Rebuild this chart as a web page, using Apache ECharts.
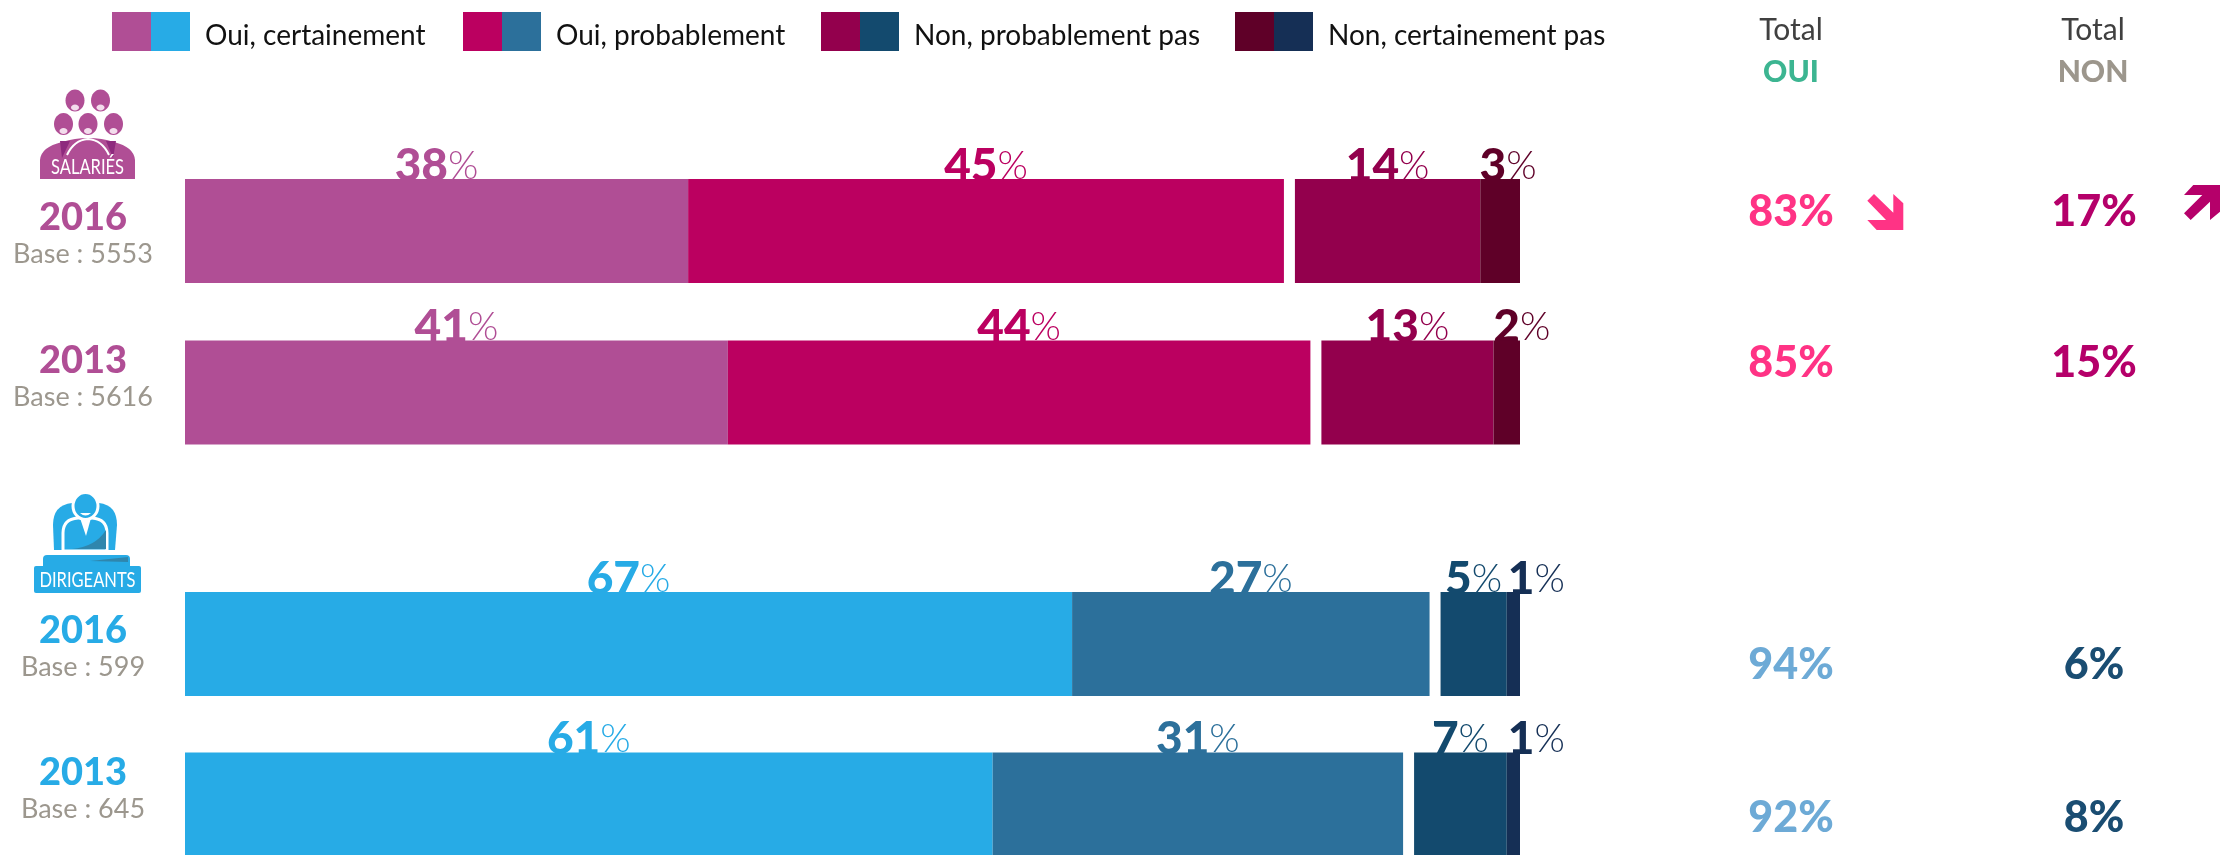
<!DOCTYPE html>
<html>
<head>
<meta charset="utf-8">
<style>html,body{margin:0;padding:0;background:#fff;overflow:hidden}#c{width:2222px;height:855px}</style>
<script src="https://cdn.jsdelivr.net/npm/echarts@6/dist/echarts.min.js"></script>
</head>
<body>
<div id="c"></div>
<script>
// ---- data ----
const answers = ['Oui, certainement', 'Oui, probablement', 'Non, probablement pas', 'Non, certainement pas'];
const years1 = ['2016', '2013'];
const bases1 = ['Base : 5553', 'Base : 5616'];
const years2 = ['2016', '2013'];
const bases2 = ['Base : 599', 'Base : 645'];
const sal_certOui = [38, 41];
const sal_probOui = [45, 44];
const sal_probNon = [14, 13];
const sal_certNon = [3, 2];
const dir_certOui = [67, 61];
const dir_probOui = [27, 31];
const dir_probNon = [5, 7];
const dir_certNon = [1, 1];
const sal_totalOui = [83, 85];
const sal_totalNon = [17, 15];
const dir_totalOui = [94, 92];
const dir_totalNon = [6, 8];
const totalColumns = ['OUI', 'NON'];
const splitGap = [0.83, 0.83];

// ---- style ----
const pinks = ['#b04e95', '#bb0060', '#93004d', '#5f0028'];
const blues = ['#27abe6', '#2c709b', '#134a6e', '#152f55'];
const axisMax = 100.83;
const hidden = {show: false};

const labelOffsets = {
  s: [null, null, null, [[8, 0], [15, 0]]],
  d: [null, null, null, [[23, 0], [23, 0]]]
};

function stackSeries(groupKey, gridIdx, values, colors) {
  const out = [];
  const order = [0, 1, 'gap', 2, 3];
  // label layer sits behind the bars so that the bars crop the foot of each number
  order.forEach(function (k) {
    const gap = k === 'gap';
    out.push({
      type: 'bar', name: groupKey + '-labels-' + k, stack: groupKey + 'L', z: 1, barWidth: 104, barGap: '-100%',
      xAxisIndex: gridIdx, yAxisIndex: gridIdx, silent: true, clip: false,
      itemStyle: {color: 'rgba(0,0,0,0)'},
      data: (gap ? splitGap : values[k]).map(function (v, i) {
        if (gap) return v;
        const off = labelOffsets[groupKey][k];
        return {value: v, label: {
          show: true, position: 'top', distance: -10,
          offset: off ? off[i] : [0, 0],
          formatter: '{d|' + v + '}{p|%}',
          rich: {
            d: {fontFamily: 'Lato', fontWeight: 900, fontSize: 46, lineHeight: 46, color: colors[k]},
            p: {fontFamily: 'Lato', fontWeight: 300, fontSize: 39, lineHeight: 46, color: colors[k]}
          }
        }};
      })
    });
  });
  order.forEach(function (k) {
    const gap = k === 'gap';
    out.push({
      type: 'bar', name: gap ? groupKey + '-gap' : (groupKey === 's' ? answers[k] : groupKey + '-' + answers[k]),
      stack: groupKey + 'B', z: 2, barWidth: 104, barGap: '-100%',
      xAxisIndex: gridIdx, yAxisIndex: gridIdx, silent: true, clip: false,
      itemStyle: {color: gap ? 'rgba(0,0,0,0)' : colors[k]},
      data: gap ? splitGap : values[k]
    });
  });
  return out;
}

function totalSeries(gridIdx, oui, non, cOui, cNon) {
  return [[oui, cOui, 0], [non, cNon, 1]].map(function (t) {
    return {
      type: 'scatter', name: 'Total ' + totalColumns[t[2]] + ' ' + gridIdx, xAxisIndex: gridIdx, yAxisIndex: gridIdx,
      symbolSize: 1, itemStyle: {color: 'rgba(0,0,0,0)', opacity: 1}, silent: true, clip: false,
      label: {show: true, position: 'inside', formatter: function (p) { return p.data[2] + '%'; },
        fontFamily: 'Lato', fontWeight: 900, fontSize: 43, color: t[1]},
      data: t[0].map(function (v, i) { return [t[2], i, v]; })
    };
  });
}

function yLabel(years, bases, key) {
  return {
    show: true, align: 'center', margin: 102,
    formatter: function (v, i) {
      const tail = i === 1 ? '\n{pad|}' : '';
      const head = i === 0 ? '{top|}\n' : '';
      return head + '{y|' + years[i] + '}\n{b|' + bases[i] + '}' + tail;
    },
    rich: {
      y: {fontFamily: 'Lato', fontWeight: 900, fontSize: 38, lineHeight: 38, color: key, align: 'center'},
      b: {fontFamily: 'Lato', fontSize: 27, lineHeight: 34, color: '#9c978e', align: 'center'},
      pad: {height: 29, lineHeight: 29},
      top: {height: 8, lineHeight: 8}
    }
  };
}

function hard(a, b) {
  return {type: 'linear', x: 0, y: 0, x2: 1, y2: 0, colorStops: [
    {offset: 0, color: a}, {offset: 0.5, color: a}, {offset: 0.5, color: b}, {offset: 1, color: b}]};
}
const legendLefts = [112, 463, 821, 1235];

const legends = answers.map(function (a, i) {
  return {
    left: legendLefts[i], top: 12, padding: 0, itemWidth: 78, itemHeight: 39, icon: 'rect', selectedMode: false,
    data: [{name: a, itemStyle: {color: hard(pinks[i], blues[i])}}],
    formatter: function (n) { return '{t|' + n + '}'; },
    textStyle: {fontFamily: 'Lato', fontSize: 28, color: '#111', padding: [0, 0, 0, 10],
      rich: {t: {fontFamily: 'Lato', fontSize: 28, color: '#111', padding: [8, 0, 0, 0]}}}
  };
});

// ---- pictograms (decoration) ----
let shapeCount = 0;
function svgPath(d, style) {
  const name = 'iconShape' + (shapeCount++);
  echarts.graphic.registerShape(name, echarts.graphic.extendPath(d));
  return {type: name, style: style};
}
const P = pinks[0], B = blues[0];
function head(cx, cy, rx, ry, col) {
  return [
    {type: 'ellipse', shape: {cx: cx, cy: cy, rx: rx, ry: ry}, style: {fill: col}},
    {type: 'ellipse', shape: {cx: cx, cy: cy + ry - 4, rx: 4, ry: 3}, style: {fill: '#f3dcec'}}
  ];
}
function iconText(x, y, text, sx) {
  return {type: 'text', x: x, y: y, scaleX: sx, style: {text: text, align: 'center', verticalAlign: 'middle', font: '22px Lato', fill: '#fff'}};
}
const icons = [].concat(
  head(75, 100.5, 9.5, 11, P), head(100.5, 100.5, 9.5, 11, P),
  head(63.5, 124, 9.5, 11, P), head(88, 124, 9.5, 11, P), head(113.5, 124, 9.5, 11, P),
  [
    svgPath('M40 179 L40 160 Q41 147 62 142 Q75 138 88 138 Q102 138 114 142 Q134 147 135 160 L135 179 Z', {fill: P}),
    svgPath('M60 141 L70 141 L62 158 Z M106 141 L116 141 L113 158 Z', {fill: '#8e2a7e'}),
    svgPath('M67 155 Q74 140 88 139 Q102 140 109 155', {fill: 'none', stroke: '#fff', lineWidth: 2}),
    iconText(87.5, 166.5, 'SALARIÉS', 0.75),
    svgPath('M54 550 L53 525 Q53 505 72 503 L99 503 Q117 505 117 525 L115 550 Z', {fill: B}),
    svgPath('M63 551 L63 533 Q63 519 78 518 L92 518 Q107 519 107 533 L107 551 Z', {fill: B, stroke: '#fff', lineWidth: 3}),
    svgPath('M106 530 L106 549 L72 549 Q95 547 106 530 Z', {fill: '#2f86ad'}),
    svgPath('M80 518 L91 518 L86 536 Z', {fill: '#fff'}),
    {type: 'ellipse', shape: {cx: 85.5, cy: 506, rx: 12.5, ry: 13.5}, style: {fill: B, stroke: '#fff', lineWidth: 3}},
    svgPath('M80 513 Q85.5 518 91 513 Z', {fill: '#fff'}),
    svgPath('M43 566 L43 559 Q43 555 47 555 L126 555 Q130 555 130 559 L130 566 Z', {fill: B}),
    svgPath('M90 561 L128 557 L128 562 Z', {fill: '#2f86ad'}),
    {type: 'rect', shape: {x: 34, y: 566, width: 107, height: 27, r: 2}, style: {fill: B}},
    iconText(87.5, 579.5, 'DIRIGEANTS', 0.75),
    {type: 'polygon', shape: {points: [[1874,194],[1893.3,212.7],[1893.3,194],[1903.3,203.3],[1903.3,230],[1876.7,230],[1867.3,220],[1886,220],[1867.3,200.7]]}, style: {fill: '#ff3385'}},
    {type: 'polygon', shape: {points: [[2193.3,185],[2220,185],[2220,211.7],[2210,220],[2210,201.7],[2190.7,220],[2184,213.3],[2202.3,195],[2184,195]]}, style: {fill: '#b5006a'}}
  ]
);

function hdr(x, y, text, col, w) {
  return {type: 'text', style: {x: x, y: y, text: text, align: 'center', verticalAlign: 'middle', fill: col, font: w + ' 30px Lato'}};
}
const headers = [
  hdr(1791, 30, 'Total', '#404040', 400), hdr(1791, 72, totalColumns[0], '#3cb591', 900),
  hdr(2093, 30, 'Total', '#404040', 400), hdr(2093, 72, totalColumns[1], '#9c968c', 900)
];

// the two category points sit on the grid edges, so each grid spans centre to centre
const grids = [
  {left: 185, width: 1335, top: 231, height: 161.5},
  {left: 185, width: 1335, top: 644, height: 162},
  {left: 1791, width: 303, top: 212, height: 151},
  {left: 1791, width: 303, top: 665, height: 153}
];

const option = {
  animation: false,
  backgroundColor: '#fff',
  legend: legends,
  grid: grids,
  xAxis: [
    {gridIndex: 0, type: 'value', min: 0, max: axisMax, show: false},
    {gridIndex: 1, type: 'value', min: 0, max: axisMax, show: false},
    {gridIndex: 2, type: 'category', boundaryGap: false, data: totalColumns, show: false},
    {gridIndex: 3, type: 'category', boundaryGap: false, data: totalColumns, show: false}
  ],
  yAxis: [
    {gridIndex: 0, type: 'category', boundaryGap: false, inverse: true, data: years1, axisLine: hidden, axisTick: hidden, axisLabel: yLabel(years1, bases1, P)},
    {gridIndex: 1, type: 'category', boundaryGap: false, inverse: true, data: years2, axisLine: hidden, axisTick: hidden, axisLabel: yLabel(years2, bases2, B)},
    {gridIndex: 2, type: 'category', boundaryGap: false, inverse: true, data: years1, show: false},
    {gridIndex: 3, type: 'category', boundaryGap: false, inverse: true, data: years2, show: false}
  ],
  series: [].concat(
    stackSeries('s', 0, [sal_certOui, sal_probOui, sal_probNon, sal_certNon], pinks),
    stackSeries('d', 1, [dir_certOui, dir_probOui, dir_probNon, dir_certNon], blues),
    totalSeries(2, sal_totalOui, sal_totalNon, '#ff3385', '#b5006a'),
    totalSeries(3, dir_totalOui, dir_totalNon, '#6daad6', '#1a4d72')
  ),
  graphic: {elements: icons.concat(headers)}
};
echarts.init(document.getElementById('c')).setOption(option);
</script>
</body>
</html>
